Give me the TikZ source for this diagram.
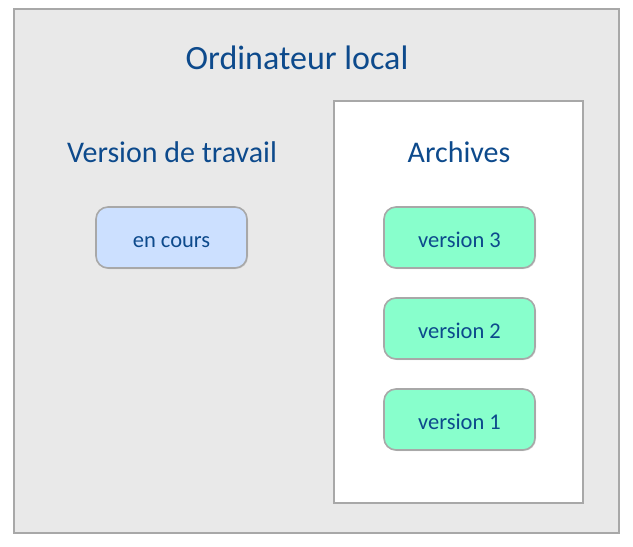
\documentclass[tikz,border=0pt]{standalone}
\usepackage{fontspec}
\setmainfont{Carlito}
\usetikzlibrary{shadows}
\definecolor{txt}{HTML}{0D4A8C}
\definecolor{bord}{HTML}{A8A8A8}
\definecolor{outerfill}{HTML}{E9E9E9}
\definecolor{bluefill}{HTML}{CCE0FF}
\definecolor{greenfill}{HTML}{88FFCC}
\tikzset{
  frame/.style={draw=bord, line width=1.6pt},
  item/.style={draw=bord, line width=1.6pt, rounded corners=12pt, minimum width=151pt, minimum height=61pt, text=txt, font=\fontsize{22.5}{27}\selectfont, text height=19pt, text depth=0pt, drop shadow={shadow xshift=1pt, shadow yshift=-1pt, opacity=0.25}},
  heading/.style={text=txt, font=\fontsize{30}{36}\selectfont},
}
\begin{document}
\begin{tikzpicture}[x=1pt,y=-1pt]
\useasboundingbox (0,0) rectangle (633,547);
\draw[frame, fill=outerfill] (14,9) rectangle (619,533);
\draw[frame, fill=white] (334,101) rectangle (583,503);
\node[text=txt, font=\fontsize{34}{40}\selectfont] (title) at (297,58) {Ordinateur local};
\node[heading] (work) at (172,152) {Version de travail};
\node[heading] (arch) at (459,152) {Archives};
\node[item, fill=bluefill] (cur) at (171.5,237.5) {en cours};
\node[item, fill=greenfill] (v3) at (459.5,237.5) {version 3};
\node[item, fill=greenfill] (v2) at (459.5,328.5) {version 2};
\node[item, fill=greenfill] (v1) at (459.5,419.5) {version 1};
\end{tikzpicture}
\end{document}
